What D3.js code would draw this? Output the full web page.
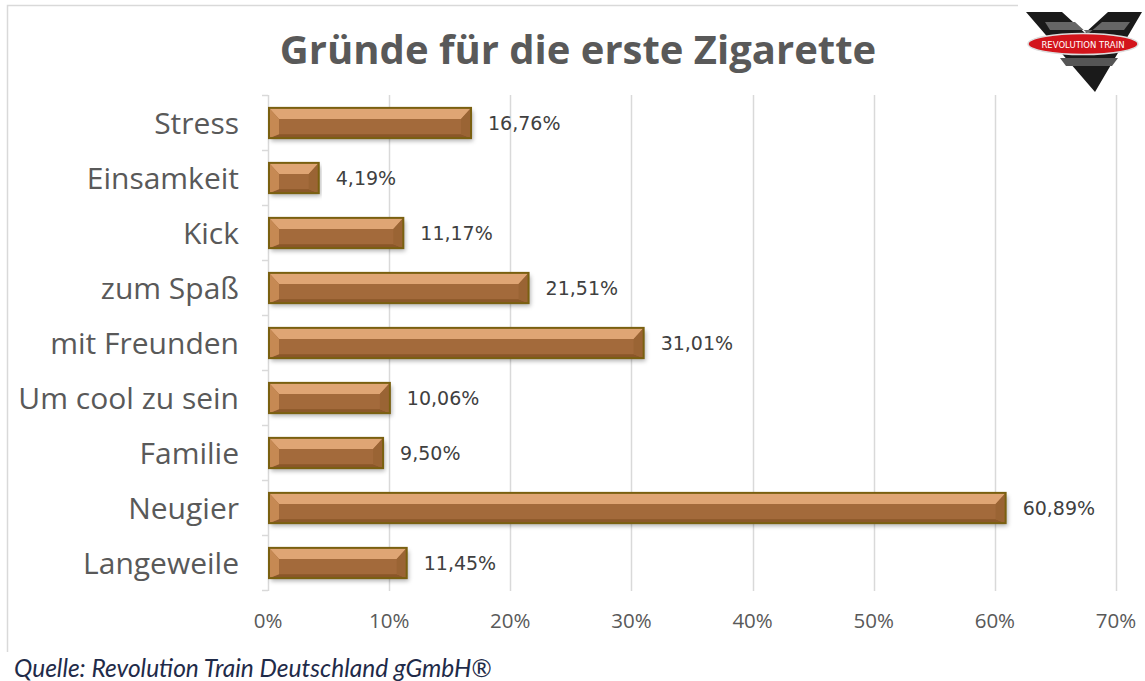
<!DOCTYPE html>
<html>
<head>
<meta charset="utf-8">
<script src="https://cdn.jsdelivr.net/npm/d3@7"></script>
<style>
  body { margin: 0; background: #fff; }
  svg { display: block; }
</style>
</head>
<body>
<div id="chart"></div>
<script>
// data
var categories = ["Stress", "Einsamkeit", "Kick", "zum Spaß", "mit Freunden", "Um cool zu sein", "Familie", "Neugier", "Langeweile"];
var values = [16.76, 4.19, 11.17, 21.51, 31.01, 10.06, 9.50, 60.89, 11.45];
var xTicks = [0, 10, 20, 30, 40, 50, 60, 70];
var title = "Gründe für die erste Zigarette";
var source = "Quelle: Revolution Train Deutschland gGmbH®";

var W = 1145, H = 681;
var svg = d3.select("#chart").append("svg").attr("width", W).attr("height", H);

var defs = svg.append("defs");
var shadow = defs.append("filter").attr("id", "shadow")
    .attr("x", "-5%").attr("y", "-30%").attr("width", "110%").attr("height", "170%");
shadow.append("feDropShadow").attr("dx", 2).attr("dy", 3).attr("stdDeviation", 2)
    .attr("flood-color", "#000").attr("flood-opacity", 0.3);

// frame
svg.append("path").attr("d", "M1146,5.5 H7.5 V652")
   .attr("fill", "none").attr("stroke", "#d9d9d9").attr("stroke-width", 1.5);

var x = d3.scaleLinear().domain([0, 70]).range([268, 1116]);
var y = d3.scaleBand().domain(categories).range([95.5, 590.5]).paddingInner(0.45).paddingOuter(0.225);

// grid
svg.append("g").selectAll("line").data(xTicks.slice(1)).join("line")
   .attr("x1", function (d) { return Math.round(x(d)) + 0.5; })
   .attr("x2", function (d) { return Math.round(x(d)) + 0.5; })
   .attr("y1", 95).attr("y2", 591)
   .attr("stroke", "#d9d9d9").attr("stroke-width", 1.5);

// y axis line + ticks at band edges
var yAxis = svg.append("g");
yAxis.append("line").attr("x1", 268.5).attr("x2", 268.5).attr("y1", 95).attr("y2", 591)
     .attr("stroke", "#d9d9d9").attr("stroke-width", 1.5);
var edges = d3.range(categories.length + 1).map(function (i) { return 95.5 + i * y.step(); });
yAxis.selectAll(".tk").data(edges).join("line")
     .attr("x1", 262).attr("x2", 268)
     .attr("y1", function (d) { return d; }).attr("y2", function (d) { return d; })
     .attr("stroke", "#d9d9d9").attr("stroke-width", 1.5);

yAxis.selectAll("text").data(categories).join("text")
     .attr("x", 239).attr("y", function (d) { return y(d) + y.bandwidth() / 2; })
     .attr("dy", "0.35em").attr("text-anchor", "end")
     .attr("font-family", "'Open Sans', sans-serif").attr("font-size", 30)
     .attr("fill", "#595959").text(function (d) { return d; });

// x tick labels
svg.append("g").selectAll("text").data(xTicks).join("text")
   .attr("x", function (d) { return x(d); }).attr("y", 628)
   .attr("text-anchor", "middle")
   .attr("font-family", "'Open Sans', sans-serif").attr("font-size", 20.5)
   .attr("fill", "#595959").text(function (d) { return d + "%"; });

// bars, drawn as bevelled blocks
var bh = y.bandwidth(), bv = 10, bt = 11, bb = 4;
var bars = svg.append("g").selectAll("g").data(values).join("g")
   .attr("transform", function (d, i) { return "translate(0," + y(categories[i]) + ")"; });

bars.append("rect")
    .attr("x", x(0) + 1).attr("y", 0)
    .attr("width", function (d) { return x(d) - x(0) - 1; }).attr("height", bh)
    .attr("fill", "#a36b3a").attr("filter", "url(#shadow)");

function face(pts, fill) {
  bars.append("path")
      .attr("d", function (d) {
        var l = x(0) + 1, r = x(d);
        return "M" + pts(l, r).map(function (p) { return p.join(","); }).join(" L") + " Z";
      })
      .attr("fill", fill);
}
face(function (l, r) { return [[l, 0], [r, 0], [r - bv, bt], [l + bv, bt]]; }, "#dfa574");
face(function (l, r) { return [[l, bh], [r, bh], [r - bv, bh - bb], [l + bv, bh - bb]]; }, "#8a5729");
face(function (l, r) { return [[l, 0], [l + bv, bt], [l + bv, bh - bb], [l, bh]]; }, "#c68953");
face(function (l, r) { return [[r, 0], [r - bv, bt], [r - bv, bh - bb], [r, bh]]; }, "#9a6434");

bars.append("rect")
    .attr("x", x(0) + 1).attr("y", 0)
    .attr("width", function (d) { return x(d) - x(0) - 1; }).attr("height", bh)
    .attr("fill", "none").attr("stroke", "#7a6010").attr("stroke-width", 2);

// value labels
bars.append("text")
    .attr("x", function (d) { return x(d) + 17; }).attr("y", bh / 2)
    .attr("dy", "0.35em")
    .attr("font-family", "'DejaVu Sans', sans-serif").attr("font-size", 19)
    .attr("fill", "#404040")
    .text(function (d) { return d.toFixed(2).replace(".", ",") + "%"; });

// title
svg.append("text").attr("x", 578).attr("y", 64).attr("text-anchor", "middle")
   .attr("font-family", "'Open Sans', sans-serif").attr("font-weight", "bold").attr("font-size", 40)
   .attr("fill", "#595959").text(title);

// source
svg.append("text").attr("x", 14).attr("y", 677)
   .attr("font-family", "Lato, sans-serif").attr("font-style", "italic").attr("font-size", 24.5)
   .attr("fill", "#1f2b49").text(source);

// logo
var logo = svg.append("g");
logo.append("rect").attr("x", 1018).attr("y", 0).attr("width", 127).attr("height", 12).attr("fill", "#fff");
logo.append("path").attr("d", "M1026,12 L1062,12 L1085,33 L1108,12 L1142,12 L1095,92 Z").attr("fill", "#1a1a1a");
logo.append("path").attr("d", "M1045,22 L1075,22 L1088,34 L1102,22 L1130,22 L1124,30 L1050,30 Z").attr("fill", "#666");
logo.append("path").attr("d", "M1060,58 L1118,58 L1112,66 L1066,66 Z").attr("fill", "#555");
logo.append("ellipse").attr("cx", 1083).attr("cy", 44).attr("rx", 55).attr("ry", 10.5)
    .attr("fill", "#d3141b").attr("stroke", "#ddd").attr("stroke-width", 1.5);
logo.append("text").attr("x", 1083).attr("y", 47.5).attr("text-anchor", "middle")
    .attr("font-family", "'DejaVu Sans', sans-serif").attr("font-size", 8.5)
    .attr("fill", "#fff").text("REVOLUTION TRAIN");
</script>
</body>
</html>
